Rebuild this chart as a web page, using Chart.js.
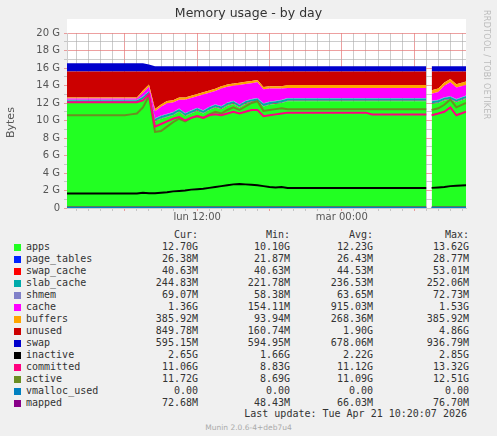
<!DOCTYPE html>
<html><head><meta charset="utf-8">
<script src="https://cdn.jsdelivr.net/npm/chart.js@4"></script>
<style>
body{margin:0;background:#f0f0f0;width:497px;height:436px;position:relative;overflow:hidden;font-family:"DejaVu Sans",sans-serif;}
#title{position:absolute;top:5px;left:0;width:497px;text-align:center;font-size:12.5px;color:#333;}
#rrd{position:absolute;left:482px;top:10px;writing-mode:vertical-rl;font-size:8px;color:#bbb;letter-spacing:0.3px;}
#ylab{position:absolute;left:4px;top:138px;transform:rotate(-90deg);transform-origin:left top;font-size:11px;color:#555;}
#wrap{position:absolute;left:0;top:0;width:497px;height:225px;}
#leg{position:absolute;left:0;top:227px;font-family:"DejaVu Sans Mono",monospace;font-size:10px;color:#333;}
.r{position:absolute;height:12px;white-space:pre;}
.sw{position:absolute;width:7px;height:7px;}
#foot{position:absolute;left:0;top:408px;width:467px;text-align:right;font-family:"DejaVu Sans Mono",monospace;font-size:10px;color:#333;}
#munin{position:absolute;left:0;top:423px;width:497px;text-align:center;font-size:7.5px;color:#aaa;}
</style></head><body>
<div id="wrap"><canvas id="c" width="497" height="225" style="width:497px;height:225px"></canvas></div>
<div id="title">Memory usage - by day</div>
<div id="rrd">RRDTOOL / TOBI OETIKER</div>
<div id="ylab">Bytes</div>
<div id="leg"></div>
<div id="foot">Last update:  Tue Apr 21 10:20:07 2026</div>
<div id="munin">Munin 2.0.6-4+deb7u4</div>
<script>
// run-length helper: [[value,count],...]
function rl(p){const o=[];p.forEach(([v,n])=>{for(let k=0;k<n;k++)o.push(v);});return o;}
const hours=Array.from({length:61},(_,i)=>1+0.5*i).concat([31.2,31.45,32,32.5,33,33.5,34.3]);
const apps=rl([[12.0,13]]).concat([12.4,13.0,9.9,10.2,10.4,10.6,11.0,10.5,10.8,11.1,10.8,11.2,11.5,11.3,11.7,11.9,11.5,11.9,12.1,12.2,11.6,11.8,11.9,12.0],rl([[12.2,24]]),[null,11.9,12.0,12.3,12.4,12.1,12.5]);
const pageTables=rl([[0.026,61],[null,1],[0.026,6]]);
const swapCache=rl([[0.04,61],[null,1],[0.04,6]]);
const slabCache=rl([[0.24,61],[null,1],[0.24,6]]);
const shmem=rl([[0.065,61],[null,1],[0.065,6]]);
const cache=rl([[0.15,13]]).concat([0.4,0.5,0.8,1.0,1.2,1.1,1.0,1.5,1.4,1.3,1.8,1.6,1.5,2.0,1.8,1.7,2.2,1.9,1.8,1.8,1.6,1.5,1.4,1.3],rl([[1.15,24]]),[null,0.8,0.9,1.3,1.6,1.3,1.2]);
const buffers=rl([[0.1,13],[0.25,24],[0.35,24],[null,1],[0.38,6]]);
const unused=rl([[2.98,13]]).concat([2.18,1.48,4.28,3.78,3.38,3.28,2.98,2.98,2.78,2.58,2.38,2.18,1.98,1.68,1.48,1.38,1.28,1.18,1.08,0.98,1.78,1.68,1.68,1.68],rl([[1.53,24]]),[null,2.15,1.95,1.25,0.85,1.45,1.15]);
const swap=rl([[0.93,14],[0.8,1],[0.6,46],[null,1],[0.6,6]]);
const inactive=rl([[1.65,13]]).concat([1.75,1.7,1.7,1.75,1.8,1.9,1.95,2.0,2.1,2.15,2.2,2.3,2.4,2.5,2.6,2.7,2.75,2.7,2.65,2.6,2.5,2.4,2.35,2.4],rl([[2.3,24]]),[null,2.3,2.35,2.4,2.5,2.55,2.6]);
const committed=rl([[12.1,13]]).concat([12.3,13.0,9.3,9.6,9.9,10.2,10.4,10.0,10.3,10.5,10.3,10.6,10.7,10.6,10.8,11.0,10.8,11.0,11.2,11.2,10.5,10.6,10.7,10.8],rl([[10.9,14],[10.7,10]]),[null,10.6,10.8,11.0,11.5,10.6,11.0]);
const active=rl([[10.6,11]]).concat([10.7,10.8,11.5,12.8,8.7,8.8,9.3,9.8,10.2,9.9,10.3,10.5,10.3,10.7,11.0,10.8,11.2,11.5,11.2,11.6,12.0,12.2,11.1,11.2,11.3,11.4],rl([[11.3,24]]),[null,11.2,11.4,11.8,12.4,11.5,12.0]);
const vmalloc=rl([[0.0,61],[null,1],[0.0,6]]);
const mapped=rl([[0.07,61],[null,1],[0.07,6]]);
const xTickLabels={12:"lun 12:00",24:"mar 00:00"};
const legendRows=[
["apps","#22ff22","12.70G","10.10G","12.23G","13.62G"],
["page_tables","#0022ff","26.38M","21.87M","26.43M","28.77M"],
["swap_cache","#ff0000","40.63M","40.63M","44.53M","53.01M"],
["slab_cache","#00aaaa","244.83M","221.78M","236.53M","252.06M"],
["shmem","#8080c8","69.07M","58.38M","63.65M","72.73M"],
["cache","#ff00ff","1.36G","154.11M","915.03M","1.53G"],
["buffers","#ffa500","385.92M","93.94M","268.36M","385.92M"],
["unused","#cc0000","849.78M","160.74M","1.90G","4.86G"],
["swap","#0000cc","595.15M","594.95M","678.06M","936.79M"],
["inactive","#000000","2.65G","1.66G","2.22G","2.85G"],
["committed","#ff0080","11.06G","8.83G","11.12G","13.32G"],
["active","#6b8e23","11.72G","8.69G","11.09G","12.51G"],
["vmalloc_used","#0080c0","0.00","0.00","0.00","0.00"],
["mapped","#880088","72.68M","48.43M","66.03M","76.70M"]];

const pts=a=>a.map((v,i)=>({x:hours[i],y:v}));
const area=(l,d,c,first)=>({label:l,data:pts(d),backgroundColor:c,borderColor:c,borderWidth:0,fill:first?'origin':'-1',stack:'s',pointRadius:0,tension:0,spanGaps:false,order:2});
const line=(l,d,c,k)=>({label:l,data:pts(d),borderColor:c,borderWidth:2,fill:false,stack:k,pointRadius:0,tension:0,spanGaps:false,order:1});
const ds=[area('apps',apps,'#22ff22',true),area('page_tables',pageTables,'#0022ff'),area('swap_cache',swapCache,'#ff0000'),area('slab_cache',slabCache,'#00aaaa'),area('shmem',shmem,'#8080c8'),area('cache',cache,'#ff00ff'),area('buffers',buffers,'#ffa500'),area('unused',unused,'#cc0000'),area('swap',swap,'#0000cc'),
line('inactive',inactive,'#000000','l1'),line('committed',committed,'#ff0080','l2'),line('active',active,'#6b8e23','l3'),line('vmalloc_used',vmalloc,'#0080c0','l4'),line('mapped',mapped,'#880088','l5')];

const bg={id:'bg',beforeDraw(ch){const a=ch.chartArea,c=ch.ctx;c.save();c.fillStyle='#fff';c.fillRect(a.left,a.top-14,a.right-a.left,a.bottom-a.top+14);c.restore();}};
new Chart(document.getElementById('c'),{type:'line',data:{datasets:ds},plugins:[bg],
options:{responsive:false,animation:false,devicePixelRatio:1,
layout:{padding:{left:0,right:31,top:33,bottom:0}},
plugins:{legend:{display:false},tooltip:{enabled:false}},
scales:{
x:{type:'linear',min:1.2,max:34.3,z:1,afterFit(s){s.height=17;},
 afterBuildTicks(s){s.ticks=[];for(let h=2;h<=34;h++)s.ticks.push({value:h});},
 ticks:{autoSkip:false,maxRotation:0,padding:0,font:{family:'DejaVu Sans',size:10},color:'#555',callback:v=>xTickLabels[v]||''},
 grid:{drawTicks:true,tickLength:3,color:c=>c.tick&&c.tick.value%6===0?'rgba(230,120,120,0.7)':'rgba(170,170,170,0.6)',borderDash:[1,2]},border:{display:true,color:'#ccc'}},
y:{stacked:true,min:0,max:20,z:1,afterFit(s){s.width=67;},
 ticks:{stepSize:1,autoSkip:false,font:{family:'DejaVu Sans',size:10},color:'#555',padding:4,callback:v=>v%2===0?(v===0?'0':v+' G'):''},
 grid:{drawTicks:true,tickLength:3,color:c=>c.tick&&c.tick.value%2===0?'rgba(230,120,120,0.7)':'rgba(170,170,170,0.6)',borderDash:[1,2]},border:{display:true,color:'#ccc'}}}}});

const leg=document.getElementById('leg');
let h='<div class="r" style="top:2px;left:0;width:469px;text-align:right;">'+
'<span style="position:absolute;right:271px">Cur:</span><span style="position:absolute;right:179px">Min:</span><span style="position:absolute;right:96px">Avg:</span><span style="position:absolute;right:0">Max:</span></div>';
legendRows.forEach((r,i)=>{const t=14+i*12;
h+=`<div class="sw" style="left:14px;top:${t+3}px;background:${r[1]}"></div><div class="r" style="left:26px;top:${t}px">${r[0]}</div>`+
`<div class="r" style="left:0;top:${t}px;width:469px"><span style="position:absolute;right:271px">${r[2]}</span><span style="position:absolute;right:179px">${r[3]}</span><span style="position:absolute;right:96px">${r[4]}</span><span style="position:absolute;right:0">${r[5]}</span></div>`;});
leg.innerHTML=h;
</script></body></html>
